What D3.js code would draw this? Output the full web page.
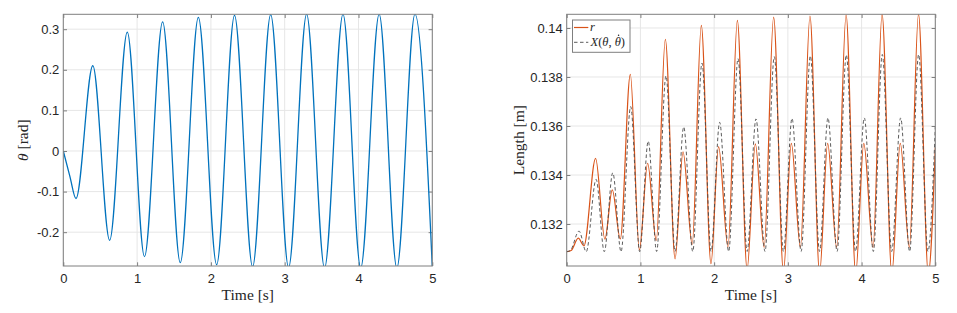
<!DOCTYPE html>
<html><head><meta charset="utf-8">
<script src="https://cdn.jsdelivr.net/npm/d3@7"></script>
<style>body{margin:0;background:#fff}svg{display:block}</style>
</head><body>
<script>
// ---- data ----
const timeTicks = [0, 1, 2, 3, 4, 5];
const thetaTicks = [-0.2, -0.1, 0, 0.1, 0.2, 0.3];
const thetaTickLabels = ["-0.2", "-0.1", "0", "0.1", "0.2", "0.3"];
const lengthTicks = [0.132, 0.134, 0.136, 0.138, 0.14];
const lengthTickLabels = ["0.132", "0.134", "0.136", "0.138", "0.14"];

// theta [rad] : extrema and shoulders of the trace (t, value)
const thetaT = [0, 0.09, 0.172, 0.40, 0.628, 0.867, 1.100, 1.346, 1.585, 1.830, 2.078, 2.320, 2.565, 2.810, 3.053, 3.297, 3.540, 3.790, 4.030, 4.280, 4.520, 4.765, 5.0];
const thetaV = [0, -0.063, -0.117, 0.210, -0.220, 0.293, -0.260, 0.318, -0.275, 0.329, -0.280, 0.334, -0.285, 0.336, -0.287, 0.337, -0.288, 0.337, -0.288, 0.337, -0.288, 0.337, -0.286];

// r [m]
const rT = [0, 0.06, 0.157, 0.234, 0.392, 0.518, 0.618, 0.727, 0.863, 0.986, 1.098, 1.215, 1.338, 1.470, 1.578, 1.702, 1.826, 1.957, 2.060, 2.188, 2.315, 2.447, 2.559, 2.678, 2.807, 2.940, 3.047, 3.170, 3.300, 3.430, 3.540, 3.662, 3.790, 3.920, 4.030, 4.155, 4.278, 4.410, 4.525, 4.648, 4.772, 4.905, 5.0];
const rV = [0.13087, 0.13092, 0.13142, 0.13111, 0.13468, 0.13138, 0.13339, 0.13139, 0.13811, 0.13094, 0.13448, 0.13133, 0.13954, 0.13058, 0.13495, 0.13117, 0.14011, 0.13038, 0.13516, 0.13107, 0.14031, 0.13015, 0.13527, 0.13105, 0.14044, 0.13005, 0.13529, 0.13105, 0.14049, 0.13000, 0.13529, 0.13105, 0.14054, 0.12998, 0.13529, 0.13105, 0.14057, 0.12998, 0.13529, 0.13105, 0.14057, 0.12998, 0.13512];

// X(theta, theta_dot) [m]
const xT = [0, 0.05, 0.167, 0.265, 0.399, 0.510, 0.625, 0.737, 0.868, 0.990, 1.106, 1.220, 1.347, 1.470, 1.587, 1.710, 1.835, 1.958, 2.075, 2.197, 2.324, 2.447, 2.568, 2.690, 2.816, 2.940, 3.056, 3.180, 3.305, 3.430, 3.544, 3.668, 3.793, 3.918, 4.037, 4.160, 4.281, 4.408, 4.530, 4.652, 4.774, 4.900, 5.0];
const xV = [0.13087, 0.13092, 0.13171, 0.13087, 0.13382, 0.13087, 0.13409, 0.13087, 0.13679, 0.13087, 0.13538, 0.13088, 0.13805, 0.13088, 0.13596, 0.13088, 0.13857, 0.13088, 0.13615, 0.13088, 0.13875, 0.13088, 0.13629, 0.13088, 0.13883, 0.13088, 0.13631, 0.13088, 0.13886, 0.13088, 0.13633, 0.13088, 0.13890, 0.13088, 0.13633, 0.13088, 0.13892, 0.13088, 0.13633, 0.13088, 0.13892, 0.13088, 0.13597];

// ---- drawing ----
const svg = d3.select("body").append("svg").attr("width", 957).attr("height", 313);
const TOP = 14.3, BOT = 266;
const AX = "#7f7f7f", GRID = "#e6e6e6", TXT = "#262626";

function panel(id, xRange, yDomain, yTicks, yLabels, yTitle, yTitleX) {
  const xs = d3.scaleLinear().domain([0, 5]).range(xRange);
  const ys = d3.scaleLinear().domain(yDomain).range([BOT, TOP]);
  const g = svg.append("g");
  // grid
  g.append("g").selectAll("line").data(timeTicks).join("line")
    .attr("x1", d => xs(d)).attr("x2", d => xs(d)).attr("y1", TOP).attr("y2", BOT)
    .attr("stroke", GRID).attr("stroke-width", 1);
  g.append("g").selectAll("line").data(yTicks).join("line")
    .attr("y1", d => ys(d)).attr("y2", d => ys(d)).attr("x1", xRange[0]).attr("x2", xRange[1])
    .attr("stroke", GRID).attr("stroke-width", 1);
  // clip
  svg.append("clipPath").attr("id", id).append("rect")
    .attr("x", xRange[0]).attr("y", TOP).attr("width", xRange[1] - xRange[0]).attr("height", BOT - TOP);
  // axes
  const bottom = g.append("g").attr("transform", `translate(0,${BOT})`)
    .call(d3.axisBottom(xs).tickValues(timeTicks).tickFormat(d3.format("d")).tickSizeInner(-3.7).tickSizeOuter(0).tickPadding(7.5));
  const top = g.append("g").attr("transform", `translate(0,${TOP})`)
    .call(d3.axisTop(xs).tickValues(timeTicks).tickFormat("").tickSizeInner(-3.7).tickSizeOuter(0));
  const left = g.append("g").attr("transform", `translate(${xRange[0]},0)`)
    .call(d3.axisLeft(ys).tickValues(yTicks).tickFormat((d, i) => yLabels[i]).tickSizeInner(-3.7).tickSizeOuter(0).tickPadding(4));
  const right = g.append("g").attr("transform", `translate(${xRange[1]},0)`)
    .call(d3.axisRight(ys).tickValues(yTicks).tickFormat("").tickSizeInner(-3.7).tickSizeOuter(0));
  [bottom, top, left, right].forEach(a => {
    a.select(".domain").remove();
    a.selectAll(".tick line").attr("stroke", AX);
    a.selectAll("text").attr("fill", TXT).attr("font-family", "'Liberation Sans', Arial, sans-serif").attr("font-size", 13);
  });
  // x title
  g.append("text").attr("x", (xRange[0] + xRange[1]) / 2).attr("y", 299.5).attr("text-anchor", "middle")
    .attr("font-family", "'Liberation Serif', serif").attr("font-size", 15.5).attr("fill", TXT).text("Time [s]");
  // y title
  const yt = g.append("text").attr("transform", `translate(${yTitleX},140.2) rotate(-90)`).attr("text-anchor", "middle")
    .attr("font-family", "'Liberation Serif', serif").attr("font-size", 15.5).attr("fill", TXT);
  yTitle(yt);
  return { xs, ys, g };
}

const L = panel("clipL", [63.3, 432.3], [-0.2833, 0.3367], thetaTicks, thetaTickLabels,
  t => { t.append("tspan").attr("font-style", "italic").text("θ"); t.append("tspan").text(" [rad]"); }, 28);
const R = panel("clipR", [566.7, 935.3], [0.130286, 0.140559], lengthTicks, lengthTickLabels,
  t => t.text("Length [m]"), 523.5);

const lineOf = (p, T, V) => d3.line().curve(d3.curveMonotoneX)
  .x((d, i) => p.xs(T[i])).y((d, i) => p.ys(V[i]))(T);

const dL = svg.append("g").attr("clip-path", "url(#clipL)");
dL.append("path").attr("d", lineOf(L, thetaT, thetaV)).attr("fill", "none")
  .attr("stroke", "#0072BD").attr("stroke-width", 1.3);

const dR = svg.append("g").attr("clip-path", "url(#clipR)");
dR.append("path").attr("d", lineOf(R, rT, rV)).attr("fill", "none")
  .attr("stroke", "#D95319").attr("stroke-width", 1.2);
dR.append("path").attr("d", lineOf(R, xT, xV)).attr("fill", "none")
  .attr("stroke", "#4a4a4a").attr("stroke-width", 0.9).attr("stroke-dasharray", "3.5,2.5");

// box frames
[[63.3, 432.3], [566.7, 935.3]].forEach(r => {
  svg.append("rect").attr("x", r[0]).attr("y", TOP).attr("width", r[1] - r[0]).attr("height", BOT - TOP)
    .attr("fill", "none").attr("stroke", AX).attr("stroke-width", 1);
});

// legend
const lg = svg.append("g");
lg.append("rect").attr("x", 572.5).attr("y", 20).attr("width", 57.5).attr("height", 32.3)
  .attr("fill", "#fff").attr("stroke", AX).attr("stroke-width", 1);
lg.append("line").attr("x1", 574).attr("x2", 588.3).attr("y1", 27.5).attr("y2", 27.5)
  .attr("stroke", "#D95319").attr("stroke-width", 1.2);
lg.append("line").attr("x1", 574).attr("x2", 588.3).attr("y1", 42.3).attr("y2", 42.3)
  .attr("stroke", "#4a4a4a").attr("stroke-width", 0.9).attr("stroke-dasharray", "3.5,2.5");
lg.append("text").attr("x", 590).attr("y", 31).attr("font-family", "'Liberation Serif', serif")
  .attr("font-style", "italic").attr("font-size", 12.5).attr("fill", TXT).text("r");
const lt = lg.append("text").attr("x", 590.5).attr("y", 46).attr("font-family", "'Liberation Serif', serif")
  .attr("font-size", 12.5).attr("fill", TXT);
lt.append("tspan").attr("font-style", "italic").text("X");
lt.append("tspan").text("(");
lt.append("tspan").attr("font-style", "italic").text("θ");
lt.append("tspan").text(", ");
const th = lt.append("tspan").attr("font-style", "italic").text("θ");
lt.append("tspan").text(")");
// dot above the second theta
const bb = th.node().getBBox ? null : null;
</script>
<script>
// place the time-derivative dot over the second theta
(function(){
  const tsp = d3.selectAll("tspan").filter(function(){ return this.textContent === "θ"; }).nodes();
  const n = tsp[tsp.length - 1];
  const txt = n.parentNode;
  const idx = Array.from(txt.childNodes).indexOf(n);
  let start = 0;
  for (let i = 0; i < idx; i++) start += txt.childNodes[i].textContent.length;
  const e = txt.getEndPositionOfChar(start), s = txt.getStartPositionOfChar(start);
  d3.select(txt.parentNode).append("circle").attr("cx", (s.x + e.x) / 2 + 0.8).attr("cy", 35.3)
    .attr("r", 0.75).attr("fill", "#262626");
})();
</script>
</body></html>
